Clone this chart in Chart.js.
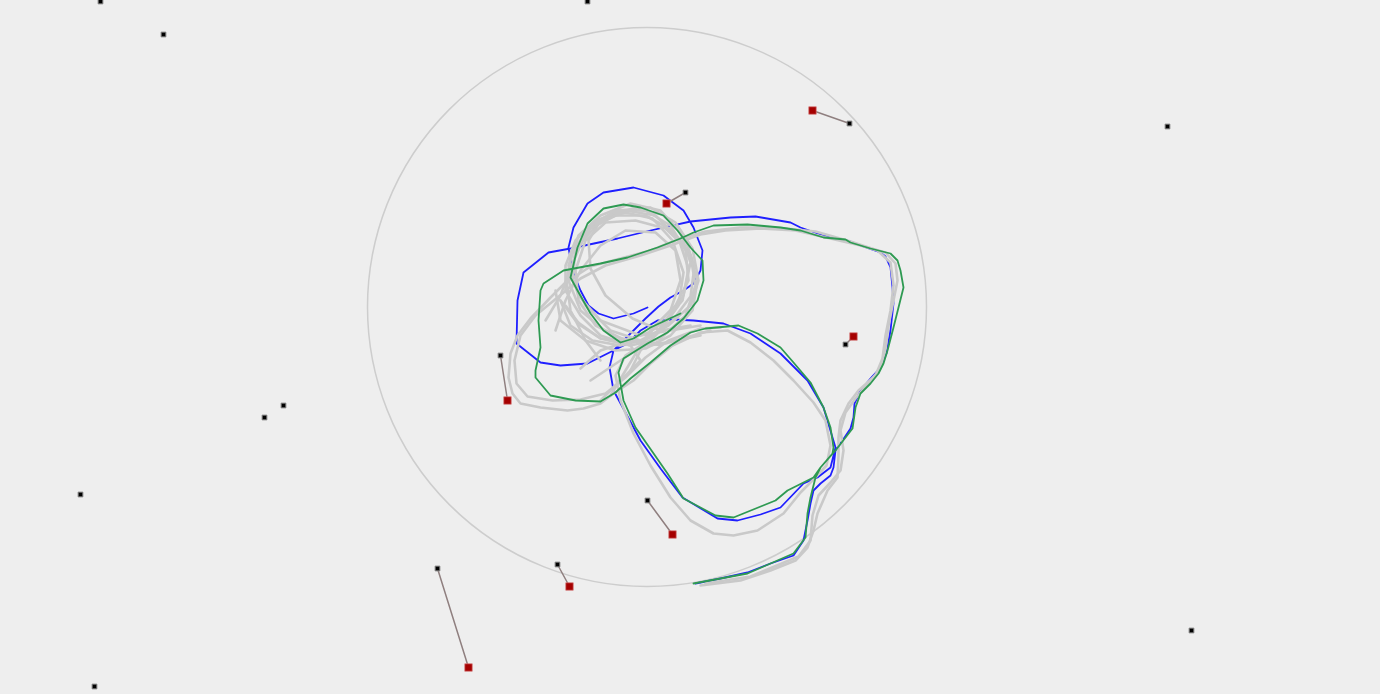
<!DOCTYPE html>
<html><head><meta charset="utf-8">
<script src="https://cdn.jsdelivr.net/npm/chart.js@4/dist/chart.umd.min.js"></script>
<style>html,body{margin:0;padding:0;background:#eeeeee;overflow:hidden}canvas{display:block}</style>
</head><body>
<canvas id="c" width="1380" height="694"></canvas>
<script>
// ---- data (scene coordinates) ----
const arenaCenter = [646.5, 306.5];
const arenaRadius = 279.5;

const idlePoints = [[100,1],[587,1],[163,34],[1167,126],[283,405],[264,417],[80,494],[1191,630],[94,686]];
const walkers = [[849,123],[685,192],[845,344],[500,355],[647,500],[557,564],[437,568]];
const goals   = [[812,110],[666,203],[853,336],[507,400],[672,534],[569,586],[468,667]];

const bluePath = [[647,307],[633,313],[613,318],[598,313],[588,305],[580,290],[572,270],[568,247],[573,227],[587,203],[603,192],[633,187],[663,195],[683,210],[693,227],[702,250],[700,270],[693,283],[683,290],[670,297],[658,306],[645,318],[630,333],[613,350],[609,367],[613,390],[625,412],[640,440],[660,468],[682,497],[717,518],[737,520],[760,514],[780,507],[803,483],[817,477],[830,467],[835,447],[832,437],[823,407],[807,380],[780,353],[750,333],[723,323],[693,320],[673,319],[657,320],[640,330],[627,343],[603,355],[587,363],[560,365],[540,362],[516,343],[517,300],[523,272],[548,252],[570,248],[617,238],[650,230],[690,221],[730,217],[755,216],[790,222],[800,227],[823,235],[850,241],[857,244],[880,252],[885,256],[890,267],[892,287],[893,303],[890,330],[886,353],[880,367],[870,378],[860,390],[854,403],[853,417],[850,428],[842,440],[835,450],[833,467],[830,475],[820,483],[813,490],[810,503],[807,520],[803,540],[793,555],[770,563],[747,572],[720,578],[695,583]];

const greenPath = [[693,583],[747,573],[793,553],[805,537],[807,513],[810,497],[815,477],[820,467],[835,450],[852,428],[855,407],[860,393],[870,383],[878,373],[883,363],[887,350],[893,327],[898,307],[903,287],[900,270],[897,260],[890,253],[870,248],[850,242],[845,239],[823,237],[800,230],[780,227],[747,224],[713,225],[693,232],[680,238],[657,247],[627,257],[600,263],[563,270],[543,283],[540,290],[538,320],[540,347],[535,370],[535,377],[550,395],[575,400],[600,401],[615,392],[630,378],[650,362],[670,345],[690,332],[705,328],[738,325],[757,333],[780,347],[793,362],[810,382],[823,407],[830,427],[833,447],[832,453],[820,467],[813,477],[787,490],[775,500],[733,517],[715,515],[683,498],[667,473],[635,427],[623,400],[618,372],[623,358],[647,343],[667,332],[683,318],[697,300],[703,280],[702,260],[690,247],[677,230],[663,215],[640,207],[623,204],[603,208],[587,223],[577,247],[570,277],[577,290],[590,313],[603,330],[620,342],[633,338],[650,327],[680,313]];

const grayOuterA = [[700,585],[740,580],[770,570],[795,560],[807,547],[813,530],[817,513],[827,490],[837,477],[838,455],[838,437],[840,420],[848,403],[858,390],[875,375],[882,358],[885,335],[890,310],[893,285],[890,262],[877,250],[850,241],[815,231],[775,227],[740,227],[705,231],[680,238],[650,250],[620,258],[590,266],[565,282],[550,297],[530,318],[517,335],[510,353],[508,377],[512,393],[520,403],[540,407],[567,410],[583,408],[600,403],[613,393],[633,380],[650,363],[672,345],[700,332],[727,330],[750,342],[773,360],[793,380],[813,402],[825,420],[830,445],[826,465],[812,480],[800,492],[783,513],[757,530],[733,535],[713,533],[690,520],[670,497],[650,465],[633,433],[620,400],[615,375],[625,355],[640,345]];
const grayOuterB = [[705,583],[750,576],[798,556],[810,540],[812,515],[818,495],[830,482],[840,470],[843,450],[840,430],[845,412],[855,398],[870,380],[880,368],[885,348],[888,325],[892,305],[897,280],[895,263],[885,252],[860,245],[830,238],[795,230],[760,228],[725,230],[700,234],[670,245],[640,255],[605,265],[580,278],[557,297],[535,315],[520,335],[514,360],[516,383],[527,396],[552,400],[580,399],[605,393],[625,377],[645,357],[668,340],[700,328],[720,327]];
const grayLoop1 = [[660,345],[640,340],[610,330],[585,305],[572,280],[575,250],[590,225],[615,210],[645,210],[670,225],[685,250],[688,280],[675,305],[655,325],[640,345],[625,370],[610,395]];
const grayLoop2 = [[700,325],[670,330],[640,335],[600,320],[578,295],[568,265],[578,235],[600,215],[630,203],[660,210],[680,232],[690,262],[683,295],[665,320],[650,340],[620,360],[590,380]];
const grayLoop3 = [[560,300],[575,320],[600,338],[630,345],[660,338],[685,315],[695,285],[690,255],[672,230],[645,215],[615,215],[590,228],[575,252],[568,280],[580,310],[610,335],[650,345],[700,335]];
const grayLoop4 = [[600,400],[620,380],[640,360],[630,345],[600,335],[580,315],[565,290],[565,265],[575,240],[595,220],[625,210],[655,215],[678,238],[688,268],[682,300],[665,320],[645,335]];
const grayLoop5 = [[555,330],[565,300],[580,270],[600,245],[625,230],[655,232],[675,250],[680,280],[670,310],[648,332],[625,340],[600,338],[580,325],[565,305]];
const grayLoop6 = [[690,325],[660,330],[632,318],[605,295],[590,268],[588,240],[600,220],[625,212],[652,218],[672,240],[683,272],[678,305],[660,330],[640,350],[630,370]];
const grayLoop7 = [[555,290],[560,320],[585,340],[615,350],[645,348],[670,335],[692,310],[697,280],[688,250],[665,228],[635,220],[605,222],[585,240],[575,270],[578,300],[595,325],[625,340],[665,343],[710,330]];
const grayLoop8 = [[545,320],[560,295],[570,268],[582,240],[603,218],[632,208],[662,214],[684,236],[694,266],[690,296],[672,320],[648,338],[620,345],[592,340],[570,325],[560,300]];
const grayLoop9 = [[600,360],[585,340],[570,310],[566,280],[572,250],[590,226],[618,210],[650,207],[675,222],[692,248],[698,280],[690,305],[668,325],[640,340],[615,345],[600,350],[580,368]];

// ---- chart ----
const toXY = a => a.map(p => ({x: p[0], y: p[1]}));
const GRAY = '#c9c9c9';
const pathDs = (pts, color, width, order) => ({
  data: toXY(pts), showLine: true, borderColor: color, borderWidth: width,
  pointRadius: 0, tension: 0, fill: false, order: order, clip: false,
  borderJoinStyle: 'round', borderCapStyle: 'round'
});

const datasets = [];
datasets.push({
  data: [{x: arenaCenter[0], y: arenaCenter[1]}], pointStyle: 'circle', pointRadius: arenaRadius,
  pointBackgroundColor: 'rgba(0,0,0,0)', pointBorderColor: '#cdcdcd', pointBorderWidth: 1.5,
  showLine: false, order: 10, clip: false
});
datasets.push(pathDs(bluePath, '#1f1fff', 1.8, 5));
[grayOuterA, grayOuterB, grayLoop1, grayLoop2, grayLoop3, grayLoop4, grayLoop5, grayLoop6, grayLoop7, grayLoop8, grayLoop9]
  .forEach(g => datasets.push(pathDs(g, GRAY, 2.6, 4)));
datasets.push(pathDs(greenPath, '#2e9a52', 1.8, 3));
walkers.forEach((w, i) => datasets.push(pathDs([w, goals[i]], '#8f7f7f', 1.5, 2)));
datasets.push({
  data: toXY(goals), showLine: false, pointStyle: 'rect', pointRadius: 5.3,
  pointBackgroundColor: '#a50000', pointBorderColor: 'rgba(215,120,120,0.7)', pointBorderWidth: 1,
  order: 1, clip: false
});
datasets.push({
  data: toXY(idlePoints.concat(walkers)), showLine: false, pointStyle: 'rect', pointRadius: 3.4,
  pointBackgroundColor: '#000000', pointBorderColor: '#8a8a8a', pointBorderWidth: 1,
  order: 0, clip: false
});

new Chart(document.getElementById('c'), {
  type: 'scatter',
  data: {datasets},
  options: {
    responsive: false, animation: false, devicePixelRatio: 1, events: [],
    layout: {padding: 0, autoPadding: false},
    plugins: {legend: {display: false}, tooltip: {enabled: false}},
    scales: {
      x: {type: 'linear', min: -0.5, max: 1379.5, display: false},
      y: {type: 'linear', min: -0.5, max: 693.5, reverse: true, display: false}
    }
  }
});
</script></body></html>
